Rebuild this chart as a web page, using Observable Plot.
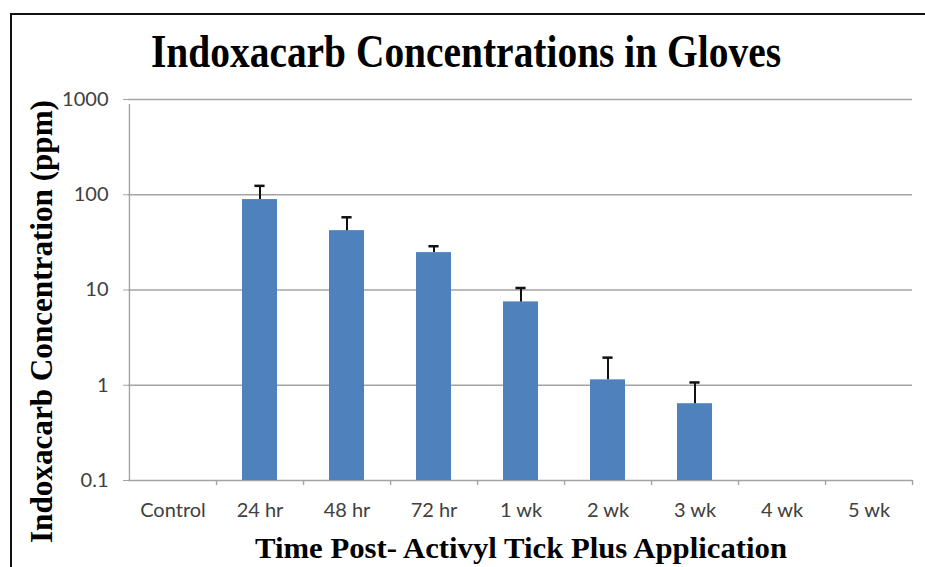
<!DOCTYPE html>
<html>
<head>
<meta charset="utf-8">
<script src="https://cdn.jsdelivr.net/npm/d3@7"></script>
<script src="https://cdn.jsdelivr.net/npm/@observablehq/plot@0.6"></script>
<style>
  html, body { margin: 0; padding: 0; background: #fff; }
  #wrap { position: relative; width: 925px; height: 567px; overflow: hidden; background: #fff; }
  #border { position: absolute; left: 10px; top: 13px; right: -5px; bottom: -5px; border-top: 2px solid #111; border-left: 2px solid #111; pointer-events: none; }
  #chart { position: absolute; left: 0; top: 0; }
</style>
</head>
<body>
<div id="wrap"><div id="chart"></div><div id="border"></div></div>
<script>
const categories = ["Control", "24 hr", "48 hr", "72 hr", "1 wk", "2 wk", "3 wk", "4 wk", "5 wk"];
const means = [null, 89, 42, 24.7, 7.5, 1.14, 0.64, null, null];
const upperErr = [null, 124, 58, 28.8, 10.5, 1.95, 1.07, null, null];
const yTicks = [0.1, 1, 10, 100, 1000];
const yTickLabels = ["0.1", "1", "10", "100", "1000"];
const titleText = "Indoxacarb Concentrations in Gloves";
const xLabelText = "Time Post- Activyl Tick Plus Application";
const yLabelText = "Indoxacarb Concentration (ppm)";

const data = categories.map((c, i) => ({cat: c, value: means[i], hi: upperErr[i]}))
  .filter(d => d.value != null);

const W = 925, H = 567, mL = 128, mR = 13, mT = 99, mB = 87;
const pInner = 0.6, pOuter = 0.3;
const step = (W - mL - mR) / (categories.length - pInner + 2 * pOuter);
const bw = step * (1 - pInner);
const capW = 10;
const grid = "#a3a3a3";
const labelMap = new Map(yTicks.map((t, i) => [t, yTickLabels[i]]));
const tickFont = "Lato, 'Open Sans', sans-serif";

const plot = Plot.plot({
  width: W, height: H,
  marginLeft: mL, marginRight: mR, marginTop: mT, marginBottom: mB,
  style: {fontFamily: tickFont, background: "transparent"},
  x: {type: "band", domain: categories, paddingInner: pInner, paddingOuter: pOuter, align: 0.5},
  y: {type: "log", domain: [0.1, 1000]},
  marks: [
    Plot.ruleY(yTicks, {stroke: grid, strokeWidth: 1.4}),
    Plot.ruleX([categories[0]], {dx: -step / 2, y1: 0.1, y2: 1000, insetBottom: -5, stroke: grid, strokeWidth: 1.4}),
    Plot.ruleX(categories, {dx: step / 2, y1: 0.1, y2: 0.1, insetBottom: -5, stroke: grid, strokeWidth: 1.4}),
    Plot.barY(data, {x: "cat", y1: 0.1, y2: "value", fill: "#4f81bd"}),
    Plot.ruleX(data, {x: "cat", y1: "value", y2: "hi", stroke: "#111", strokeWidth: 2}),
    Plot.tickY(data, {x: "cat", y: "hi", stroke: "#111", strokeWidth: 2.5, inset: (bw - capW) / 2}),
    Plot.axisY(yTicks, {tickFormat: d => labelMap.get(d), tickSize: 5, tickPadding: 15, stroke: grid, fill: "#404040", fontSize: 20, label: null}),
    Plot.axisX({tickSize: 0, tickPadding: 22, fill: "#404040", fontSize: 20, label: null})
  ]
});
document.getElementById("chart").appendChild(plot);

const svg = d3.select(plot);
const serif = "'Liberation Serif', 'Times New Roman', serif";
svg.append("text").text(titleText)
  .attr("x", 151).attr("y", 67)
  .attr("text-anchor", "start")
  .attr("font-family", serif).attr("font-weight", "bold").attr("font-size", 47)
  .attr("fill", "#000")
  .attr("textLength", 630).attr("lengthAdjust", "spacingAndGlyphs");
svg.append("text").text(xLabelText)
  .attr("x", 255).attr("y", 558)
  .attr("text-anchor", "start")
  .attr("font-family", serif).attr("font-weight", "bold").attr("font-size", 30)
  .attr("fill", "#000")
  .attr("textLength", 532).attr("lengthAdjust", "spacingAndGlyphs");
svg.append("text").text(yLabelText)
  .attr("transform", "translate(52,543) rotate(-90)")
  .attr("x", 0).attr("y", 0)
  .attr("text-anchor", "start")
  .attr("font-family", serif).attr("font-weight", "bold").attr("font-size", 31)
  .attr("fill", "#000")
  .attr("textLength", 443).attr("lengthAdjust", "spacingAndGlyphs");
</script>
</body>
</html>
